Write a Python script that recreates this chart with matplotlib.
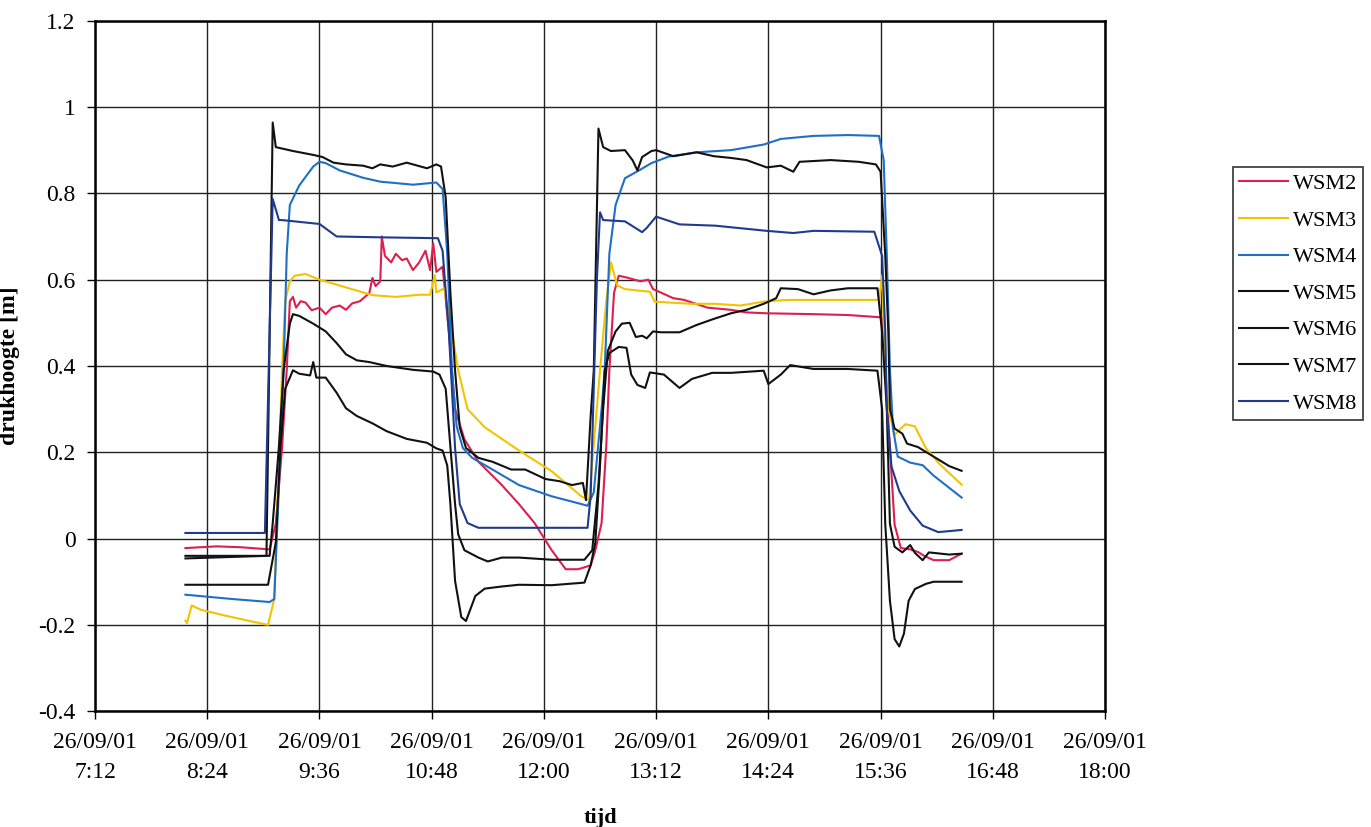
import matplotlib
matplotlib.use("Agg")
import matplotlib.pyplot as plt
import pandas as pd

plt.rcParams['font.family'] = ['Liberation Serif', 'DejaVu Serif']

DAY = "2001-09-26 "

# (tijd, drukhoogte [m])
wsm2 = [("8:10", -0.022), ("8:30", -0.018), ("8:45", -0.02), ("9:04", -0.025), ("9:08", 0.035),
        ("9:12", 0.21), ("9:15", 0.39), ("9:17", 0.55), ("9:19", 0.56), ("9:21", 0.535),
        ("9:24", 0.55), ("9:27", 0.547), ("9:31", 0.529), ("9:36", 0.535), ("9:40", 0.52),
        ("9:44", 0.535), ("9:49", 0.54), ("9:53", 0.53), ("9:57", 0.545), ("10:02", 0.55),
        ("10:08", 0.569), ("10:10", 0.604), ("10:12", 0.585), ("10:15", 0.596), ("10:16", 0.70),
        ("10:18", 0.655), ("10:22", 0.64), ("10:25", 0.66), ("10:29", 0.645), ("10:32", 0.649),
        ("10:36", 0.622), ("10:40", 0.64), ("10:44", 0.667), ("10:47", 0.622), ("10:49", 0.684),
        ("10:51", 0.618), ("10:55", 0.63), ("10:59", 0.48), ("11:03", 0.30), ("11:09", 0.23),
        ("11:18", 0.178), ("11:33", 0.124), ("11:44", 0.08), ("11:54", 0.036), ("12:05", -0.027),
        ("12:14", -0.071), ("12:22", -0.071), ("12:30", -0.062), ("12:33", -0.027), ("12:37", 0.036),
        ("12:40", 0.213), ("12:42", 0.39), ("12:45", 0.57), ("12:48", 0.609), ("12:53", 0.605),
        ("13:02", 0.596), ("13:07", 0.6), ("13:10", 0.578), ("13:12", 0.575), ("13:23", 0.557),
        ("13:30", 0.553), ("13:45", 0.535), ("14:00", 0.53), ("14:10", 0.524), ("14:23", 0.522),
        ("14:53", 0.52), ("15:15", 0.518), ("15:35", 0.513), ("15:37", 0.513), ("15:39", 0.39),
        ("15:42", 0.21), ("15:45", 0.032), ("15:49", -0.022), ("15:55", -0.025), ("16:00", -0.031),
        ("16:04", -0.04), ("16:10", -0.05), ("16:20", -0.05), ("16:28", -0.035)]

wsm3 = [("8:10", -0.19), ("8:11", -0.196), ("8:14", -0.155), ("8:20", -0.165), ("8:35", -0.178),
        ("8:50", -0.19), ("9:03", -0.2), ("9:07", -0.14), ("9:12", 0.39), ("9:14", 0.55),
        ("9:17", 0.596), ("9:20", 0.609), ("9:27", 0.613), ("9:36", 0.6), ("9:53", 0.582),
        ("10:10", 0.564), ("10:25", 0.56), ("10:40", 0.565), ("10:47", 0.565), ("10:50", 0.61),
        ("10:51", 0.57), ("10:56", 0.58), ("11:01", 0.48), ("11:05", 0.39), ("11:11", 0.30),
        ("11:22", 0.258), ("11:44", 0.204), ("12:05", 0.156), ("12:24", 0.098), ("12:29", 0.089),
        ("12:36", 0.39), ("12:40", 0.55), ("12:43", 0.64), ("12:47", 0.587), ("12:52", 0.578),
        ("13:05", 0.573), ("13:08", 0.572), ("13:11", 0.549), ("13:34", 0.544), ("13:50", 0.544),
        ("14:06", 0.54), ("14:21", 0.549), ("14:36", 0.553), ("15:04", 0.553), ("15:35", 0.553),
        ("15:37", 0.61), ("15:39", 0.39), ("15:41", 0.30), ("15:45", 0.24), ("15:49", 0.255),
        ("15:52", 0.265), ("15:58", 0.26), ("16:05", 0.21), ("16:14", 0.172), ("16:28", 0.125)]

wsm4 = [("8:10", -0.13), ("8:40", -0.14), ("9:04", -0.147), ("9:07", -0.14), ("9:10", 0.12),
        ("9:13", 0.39), ("9:15", 0.66), ("9:17", 0.773), ("9:23", 0.818), ("9:32", 0.862),
        ("9:36", 0.873), ("9:40", 0.87), ("9:49", 0.853), ("10:04", 0.836), ("10:15", 0.827),
        ("10:36", 0.82), ("10:51", 0.825), ("10:55", 0.81), ("10:58", 0.66), ("11:01", 0.39),
        ("11:04", 0.26), ("11:08", 0.21), ("11:14", 0.187), ("11:27", 0.16), ("11:44", 0.124),
        ("12:05", 0.098), ("12:24", 0.08), ("12:28", 0.076), ("12:32", 0.107), ("12:37", 0.30),
        ("12:39", 0.39), ("12:42", 0.66), ("12:46", 0.773), ("12:52", 0.835), ("13:01", 0.853),
        ("13:09", 0.87), ("13:20", 0.885), ("13:38", 0.895), ("14:00", 0.90), ("14:21", 0.913),
        ("14:32", 0.926), ("14:53", 0.933), ("15:15", 0.935), ("15:35", 0.933), ("15:38", 0.877),
        ("15:40", 0.655), ("15:42", 0.39), ("15:44", 0.255), ("15:47", 0.19), ("15:55", 0.176),
        ("16:03", 0.17), ("16:10", 0.146), ("16:28", 0.095)]

wsm5 = [("8:10", -0.046), ("9:02", -0.04), ("9:06", 0.964), ("9:08", 0.907), ("9:19", 0.898),
        ("9:32", 0.889), ("9:38", 0.884), ("9:45", 0.871), ("9:53", 0.867), ("10:04", 0.864),
        ("10:10", 0.858), ("10:15", 0.867), ("10:23", 0.862), ("10:32", 0.871), ("10:36", 0.867),
        ("10:45", 0.858), ("10:51", 0.867), ("10:54", 0.862), ("10:57", 0.79), ("11:00", 0.57),
        ("11:03", 0.39), ("11:06", 0.258), ("11:10", 0.21), ("11:18", 0.187), ("11:27", 0.178),
        ("11:39", 0.16), ("11:48", 0.16), ("12:01", 0.138), ("12:10", 0.133), ("12:18", 0.124),
        ("12:25", 0.129), ("12:27", 0.089), ("12:30", 0.284), ("12:32", 0.39), ("12:35", 0.95),
        ("12:38", 0.907), ("12:43", 0.898), ("12:52", 0.9), ("12:57", 0.876), ("13:00", 0.853),
        ("13:03", 0.884), ("13:09", 0.898), ("13:12", 0.9), ("13:23", 0.886), ("13:38", 0.895),
        ("13:49", 0.886), ("14:00", 0.882), ("14:10", 0.877), ("14:23", 0.86), ("14:32", 0.864),
        ("14:40", 0.85), ("14:44", 0.873), ("15:04", 0.877), ("15:22", 0.873), ("15:33", 0.867),
        ("15:36", 0.85), ("15:39", 0.655), ("15:41", 0.478), ("15:42", 0.30), ("15:45", 0.255),
        ("15:50", 0.243), ("15:53", 0.22), ("16:00", 0.212), ("16:10", 0.19), ("16:20", 0.168),
        ("16:28", 0.157)]

wsm6 = [("8:10", -0.04), ("9:04", -0.04), ("9:06", 0.035), ("9:10", 0.213), ("9:13", 0.39),
        ("9:17", 0.498), ("9:19", 0.52), ("9:23", 0.516), ("9:32", 0.498), ("9:40", 0.48),
        ("9:47", 0.453), ("9:53", 0.427), ("10:00", 0.413), ("10:08", 0.409), ("10:19", 0.40),
        ("10:36", 0.391), ("10:49", 0.387), ("10:53", 0.38), ("10:57", 0.347), ("11:00", 0.213),
        ("11:03", 0.08), ("11:05", 0.01), ("11:09", -0.027), ("11:18", -0.044), ("11:24", -0.053),
        ("11:33", -0.044), ("11:44", -0.044), ("12:05", -0.049), ("12:26", -0.049), ("12:31", -0.027),
        ("12:35", 0.124), ("12:38", 0.30), ("12:41", 0.435), ("12:46", 0.48), ("12:50", 0.498),
        ("12:55", 0.5), ("12:59", 0.467), ("13:03", 0.47), ("13:06", 0.464), ("13:10", 0.48),
        ("13:15", 0.478), ("13:27", 0.478), ("13:38", 0.495), ("13:49", 0.509), ("14:00", 0.522),
        ("14:10", 0.53), ("14:21", 0.544), ("14:29", 0.557), ("14:32", 0.58), ("14:43", 0.578),
        ("14:53", 0.566), ("15:04", 0.575), ("15:15", 0.58), ("15:34", 0.58), ("15:37", 0.478),
        ("15:40", 0.30), ("15:42", 0.034), ("15:45", -0.019), ("15:50", -0.032), ("15:55", -0.015),
        ("15:58", -0.033), ("16:03", -0.05), ("16:07", -0.032), ("16:20", -0.037), ("16:28", -0.035)]

wsm7 = [("8:10", -0.107), ("9:03", -0.107), ("9:08", -0.009), ("9:11", 0.213), ("9:14", 0.347),
        ("9:19", 0.39), ("9:23", 0.382), ("9:30", 0.378), ("9:32", 0.409), ("9:34", 0.373),
        ("9:40", 0.373), ("9:47", 0.338), ("9:53", 0.302), ("10:00", 0.284), ("10:10", 0.267),
        ("10:19", 0.249), ("10:32", 0.231), ("10:45", 0.222), ("10:51", 0.209), ("10:55", 0.204),
        ("10:58", 0.169), ("11:00", 0.08), ("11:03", -0.098), ("11:07", -0.182), ("11:10", -0.191),
        ("11:16", -0.133), ("11:22", -0.116), ("11:33", -0.111), ("11:44", -0.107), ("12:05", -0.108),
        ("12:26", -0.102), ("12:30", -0.062), ("12:33", -0.009), ("12:36", 0.169), ("12:39", 0.39),
        ("12:42", 0.43), ("12:48", 0.444), ("12:53", 0.442), ("12:56", 0.38), ("13:00", 0.356),
        ("13:05", 0.349), ("13:08", 0.385), ("13:17", 0.38), ("13:27", 0.349), ("13:35", 0.37),
        ("13:48", 0.384), ("14:00", 0.384), ("14:21", 0.389), ("14:24", 0.358), ("14:32", 0.38),
        ("14:38", 0.402), ("14:53", 0.393), ("15:15", 0.393), ("15:34", 0.389), ("15:37", 0.30),
        ("15:39", 0.034), ("15:42", -0.144), ("15:45", -0.233), ("15:48", -0.25), ("15:51", -0.22),
        ("15:54", -0.144), ("15:58", -0.117), ("16:05", -0.105), ("16:10", -0.1), ("16:28", -0.1)]

wsm8 = [("8:10", 0.013), ("9:01", 0.013), ("9:06", 0.787), ("9:10", 0.738), ("9:12", 0.738),
        ("9:36", 0.729), ("9:47", 0.70), ("10:15", 0.698), ("10:52", 0.696), ("10:55", 0.667),
        ("10:59", 0.48), ("11:03", 0.21), ("11:06", 0.08), ("11:11", 0.036), ("11:18", 0.025),
        ("12:28", 0.025), ("12:30", 0.10), ("12:34", 0.60), ("12:36", 0.756), ("12:38", 0.738),
        ("12:52", 0.735), ("13:03", 0.71), ("13:06", 0.72), ("13:12", 0.746), ("13:27", 0.728),
        ("13:50", 0.725), ("14:23", 0.713), ("14:40", 0.708), ("14:53", 0.713), ("15:32", 0.711),
        ("15:37", 0.655), ("15:39", 0.48), ("15:40", 0.30), ("15:43", 0.167), ("15:48", 0.11),
        ("15:55", 0.065), ("16:03", 0.03), ("16:13", 0.015), ("16:28", 0.02)]

series = [("WSM2", wsm2, "#dc1f4e"), ("WSM3", wsm3, "#f2c400"), ("WSM4", wsm4, "#1f6fc4"),
          ("WSM5", wsm5, "#111111"), ("WSM6", wsm6, "#111111"), ("WSM7", wsm7, "#111111"),
          ("WSM8", wsm8, "#1f3a8f")]

tick_times = ["7:12", "8:24", "9:36", "10:48", "12:00", "13:12", "14:24", "15:36", "16:48", "18:00"]
y_ticks = [-0.4, -0.2, 0, 0.2, 0.4, 0.6, 0.8, 1, 1.2]


def to_time(s):
    return pd.to_datetime(DAY + s)


fig = plt.figure(figsize=(13.71, 8.27), dpi=100)
ax = fig.add_axes([0.0693, 0.14, 0.7367, 0.835])

for name, pts, col in series:
    x = [to_time(t) for t, v in pts]
    y = [v for t, v in pts]
    ax.plot(x, y, color=col, lw=1.5, label=name)

ticks = [to_time(t) for t in tick_times]
ax.set_xticks(ticks)
ax.set_xticklabels([d.strftime("%d/%m/%y") + "\n" + t for d, t in zip(ticks, tick_times)],
                   linespacing=1.55)
ax.set_xlim(ticks[0], ticks[-1])
ax.set_ylim(-0.4, 1.2)
ax.set_yticks(y_ticks)
ax.set_yticklabels(["%g" % v for v in y_ticks])

ax.grid(True, color="#222222", lw=1)
for sp in ax.spines.values():
    sp.set_linewidth(1.8)
ax.tick_params(axis="both", direction="out", length=6, width=1, labelsize=17)
ax.tick_params(axis="x", pad=9)
ax.tick_params(axis="y", pad=8)

ax.set_xlabel("tijd", fontsize=16, fontweight="bold", labelpad=18)
ax.set_ylabel("drukhoogte [m]", fontsize=17, fontweight="bold", labelpad=13)

leg = ax.legend(loc="upper left", bbox_to_anchor=(0.899, 0.798), bbox_transform=fig.transFigure,
                borderaxespad=0, fontsize=16, fancybox=False, handlelength=2.2,
                handletextpad=0.2, labelspacing=0.72, borderpad=0.3)
leg.get_frame().set_edgecolor("black")
leg.get_frame().set_linewidth(1.2)

fig.savefig("out.png", dpi=100)
